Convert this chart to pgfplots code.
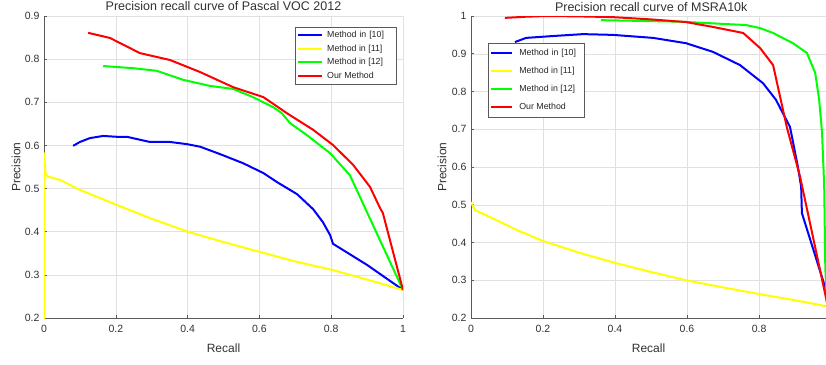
\documentclass[border=0pt]{standalone}
\usepackage{pgfplots}
\pgfplotsset{compat=1.18}
\usepackage{fontspec}
\setmainfont{Liberation Sans}
\definecolor{mblue}{RGB}{0,0,255}
\definecolor{myellow}{RGB}{255,255,0}
\definecolor{mgreen}{RGB}{0,255,0}
\definecolor{mred}{RGB}{255,0,0}
\definecolor{axgray}{RGB}{90,90,90}
\definecolor{txtgray}{RGB}{50,50,50}
\pgfplotsset{
  prstyle/.style={
    scale only axis,
    height=302pt,
    ymin=0.2,
    axis x line*=bottom, axis y line*=left,
    axis line style={axgray, line width=0.8pt, -},
    grid=major,
    grid style={black!12, line width=0.5pt},
    tick align=inside,
    major tick length=3pt,
    tick style={axgray, line width=0.6pt},
    ticklabel style={font=\fontsize{10.5}{12}\selectfont, text=txtgray},
    /pgf/number format/assume math mode=true,
    xlabel={Recall}, ylabel={Precision},
    label style={font=\fontsize{12}{14}\selectfont, text=txtgray},
    xlabel style={at={(0.5,0)}, anchor=base, yshift=-34pt},
    title style={font=\fontsize{12.5}{14}\selectfont, text=txtgray, at={(0.5,1)}, anchor=base, inner sep=0pt, yshift=-1pt},
    xticklabel style={yshift=-4pt},
    yticklabel style={xshift=-1pt},
    legend cell align=left,
    every axis plot/.append style={line width=2pt, line join=round},
  }
}
\begin{document}
\begin{tikzpicture}[x=1pt,y=1pt]
\useasboundingbox (0,0) rectangle (826,364);
% ---------- Left: Pascal VOC 2012 ----------
\begin{axis}[prstyle,
  at={(44pt,46pt)}, anchor=south west,
  width=359pt,
  xmin=0, xmax=1, ymax=0.9,
  xtick={0,0.2,0.4,0.6,0.8,1},
  xticklabels={0,0.2,0.4,0.6,0.8,1},
  ytick={0.2,0.3,0.4,0.5,0.6,0.7,0.8,0.9},
  yticklabels={0.2,0.3,0.4,0.5,0.6,0.7,0.8,0.9},
  ylabel style={at={(axis description cs:-0.078,0.5)}, anchor=center},
  title={Precision recall curve of Pascal VOC 2012},
  legend image code/.code={\draw[#1, line width=2pt] (0pt,0pt) -- (24pt,0pt);},
  legend style={at={(0.699,0.964)}, anchor=north west, draw=axgray, line width=0.6pt,
    font=\fontsize{8.8}{10}\selectfont, text=black!85,
    inner xsep=2pt, inner ysep=3pt, row sep=3pt, column sep=3pt,
    nodes={inner sep=1pt, text height=6.5pt, text depth=2pt}},
]
\addplot[mblue] coordinates {
(0.081,0.599) (0.100,0.608) (0.128,0.617) (0.165,0.622) (0.203,0.620) (0.231,0.620)
(0.295,0.608) (0.351,0.608) (0.398,0.603) (0.435,0.597) (0.490,0.580) (0.554,0.559)
(0.611,0.536) (0.649,0.515) (0.705,0.487) (0.750,0.452) (0.777,0.422) (0.797,0.392)
(0.805,0.372) (0.900,0.323) (1.000,0.265)};
\addlegendentry[text width=66pt]{Method in [10]}
\addplot[myellow] coordinates {
(0,0.15) (0,0.582) (0.004,0.535) (0.010,0.528) (0.045,0.520) (0.100,0.497)
(0.203,0.462) (0.300,0.430) (0.401,0.400) (0.500,0.376) (0.602,0.353) (0.700,0.331)
(0.805,0.311) (0.900,0.289) (1.000,0.265)};
\addlegendentry{Method in [11]}
\addplot[mgreen] coordinates {
(0.165,0.784) (0.249,0.779) (0.314,0.773) (0.388,0.752) (0.462,0.738) (0.527,0.731)
(0.582,0.712) (0.638,0.689) (0.662,0.675) (0.685,0.652) (0.732,0.624) (0.797,0.582)
(0.852,0.531) (1.000,0.265)};
\addlegendentry{Method in [12]}
\addplot[mred] coordinates {
(0.123,0.861) (0.184,0.849) (0.267,0.814) (0.351,0.798) (0.435,0.770) (0.527,0.735)
(0.611,0.712) (0.676,0.675) (0.750,0.636) (0.805,0.601) (0.861,0.555) (0.908,0.504)
(0.936,0.455) (0.944,0.443) (1.000,0.265)};
\addlegendentry{Our Method}
\end{axis}
% ---------- Right: MSRA10k ----------
\begin{axis}[prstyle,
  at={(471pt,46pt)}, anchor=south west,
  width=355pt,
  xmin=0, xmax=0.986, ymax=1,
  xtick={0,0.2,0.4,0.6,0.8},
  xticklabels={0,0.2,0.4,0.6,0.8},
  ytick={0.2,0.3,0.4,0.5,0.6,0.7,0.8,0.9,1},
  yticklabels={0.2,0.3,0.4,0.5,0.6,0.7,0.8,0.9,1},
  ylabel style={at={(axis description cs:-0.0817,0.5)}, anchor=center},
  title={Precision recall curve of MSRA10k},
  title style={at={(0.5077,1)}},
  legend image code/.code={\draw[#1, line width=2pt] (0pt,0pt) -- (21pt,0pt);},
  legend style={at={(0.048,0.911)}, anchor=north west, draw=axgray, line width=0.6pt,
    font=\fontsize{8.8}{10}\selectfont, text=black!85,
    inner xsep=2pt, inner ysep=5pt, row sep=7.5pt, column sep=5pt,
    nodes={inner sep=1pt, text height=6.5pt, text depth=2pt}},
]
\addplot[mblue] coordinates {
(0.122,0.931) (0.153,0.942) (0.228,0.947) (0.311,0.952) (0.394,0.950) (0.506,0.942)
(0.597,0.928) (0.672,0.905) (0.747,0.870) (0.811,0.822) (0.847,0.778) (0.886,0.706)
(0.908,0.600) (0.917,0.547) (0.919,0.478) (0.986,0.274) (1.000,0.231)};
\addlegendentry[text width=62pt]{Method in [10]}
\addplot[myellow] coordinates {
(0,0.507) (0.011,0.486) (0.069,0.460) (0.130,0.432) (0.200,0.404) (0.300,0.373)
(0.400,0.346) (0.500,0.322) (0.597,0.300) (0.700,0.281) (0.797,0.264) (0.900,0.247)
(1.000,0.229)};
\addlegendentry{Method in [11]}
\addplot[mgreen] coordinates {
(0.361,0.989) (0.580,0.985) (0.764,0.976) (0.803,0.968) (0.839,0.955) (0.894,0.928)
(0.933,0.902) (0.956,0.849) (0.967,0.778) (0.975,0.690) (0.981,0.547) (0.984,0.335)
(0.990,0.200)};
\addlegendentry{Method in [12]}
\addplot[mred] coordinates {
(0.094,0.995) (0.150,0.998) (0.208,1.000) (0.300,0.999) (0.394,0.997) (0.500,0.991)
(0.597,0.984) (0.672,0.971) (0.756,0.955) (0.803,0.915) (0.839,0.870) (0.877,0.706)
(0.914,0.574) (0.986,0.253) (1.000,0.190)};
\addlegendentry{Our Method}
\end{axis}
\end{tikzpicture}
\end{document}
